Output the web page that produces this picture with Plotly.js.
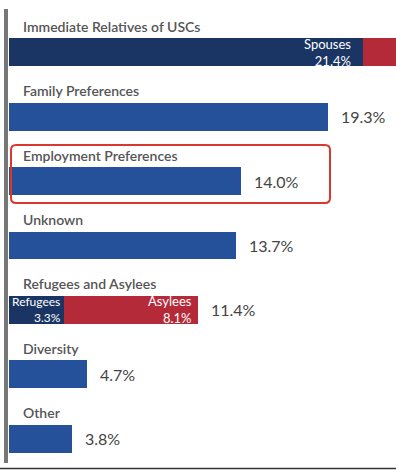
<!DOCTYPE html>
<html>
<head>
<meta charset="utf-8">
<script src="https://cdn.plot.ly/plotly-3.0.1.min.js"></script>
<style>html,body{margin:0;padding:0;background:#fff;}#chart{width:396px;height:471px;}</style>
</head>
<body>
<div id="chart"></div>
<script>
// Categories (top to bottom)
const categories = ["Immediate Relatives of USCs", "Family Preferences", "Employment Preferences", "Unknown", "Refugees and Asylees", "Diversity", "Other"];
// Totals shown to the right of bars
const totals = [null, 19.3, 14.0, 13.7, 11.4, 4.7, 3.8];
// Sub-segments
const spouses = 21.4;          // Immediate Relatives: Spouses
const otherRelatives = 22.6;   // Immediate Relatives: remainder (cropped, estimated)
const refugees = 3.3;
const asylees = 8.1;
const singleCats = ["Family Preferences", "Employment Preferences", "Unknown", "Diversity", "Other"];
const singleVals = [19.3, 14.0, 13.7, 4.7, 3.8];

const NAVY = "#1a3563", BLUE = "#24519a", RED = "#b52a38";
const FONT = "Lato, 'Source Sans Pro', 'Open Sans', sans-serif";

const traces = [
  {type: "bar", orientation: "h", y: [categories[0], categories[4]], x: [spouses, refugees],
   marker: {color: NAVY}, hoverinfo: "none"},
  {type: "bar", orientation: "h", y: [categories[0], categories[4]], x: [otherRelatives, asylees],
   marker: {color: RED}, hoverinfo: "none"},
  {type: "bar", orientation: "h", y: singleCats, x: singleVals,
   marker: {color: BLUE}, hoverinfo: "none"}
];

const annotations = [];
categories.forEach((c, i) => {
  annotations.push({x: 0, y: c, xref: "x", yref: "y", text: c, showarrow: false,
    xanchor: "left", yanchor: "middle", xshift: 12, yshift: 26,
    font: {family: FONT, size: 14, color: "#555555", weight: 600}});
  if (totals[i] !== null) {
    annotations.push({x: totals[i], y: c, xref: "x", yref: "y", text: totals[i].toFixed(1) + "%",
      showarrow: false, xanchor: "left", yanchor: "middle", xshift: 11,
      font: {family: FONT, size: 16, color: "#444444"}});
  }
});
// inside segment labels
const inside = [
  {x: spouses, y: categories[0], t: "Spouses<br>" + spouses.toFixed(1) + "%", s: -10, f: 13},
  {x: refugees, y: categories[4], t: "Refugees<br>" + refugees.toFixed(1) + "%", s: -1, f: 12},
  {x: refugees + asylees, y: categories[4], t: "Asylees<br>" + asylees.toFixed(1) + "%", s: -4, f: 13}
];
inside.forEach(o => annotations.push({x: o.x, y: o.y, xref: "x", yref: "y", text: o.t, showarrow: false,
  xanchor: "right", yanchor: "middle", xshift: o.s, align: "right",
  font: {family: FONT, size: o.f, color: "#ffffff"}}));

// rounded highlight box around Employment Preferences (paper coords)
const W = 387, H = 451; // plot area px
function px2x(px){ return (px - 9) / W; }
function py2y(py){ return (471 - py) / H; }
const bx0 = 11, bx1 = 330, by0 = 145, by1 = 203, r = 5;
const boxPath = [
  "M", px2x(bx0 + r), py2y(by0),
  "L", px2x(bx1 - r), py2y(by0),
  "Q", px2x(bx1), py2y(by0), px2x(bx1), py2y(by0 + r),
  "L", px2x(bx1), py2y(by1 - r),
  "Q", px2x(bx1), py2y(by1), px2x(bx1 - r), py2y(by1),
  "L", px2x(bx0 + r), py2y(by1),
  "Q", px2x(bx0), py2y(by1), px2x(bx0), py2y(by1 - r),
  "L", px2x(bx0), py2y(by0 + r),
  "Q", px2x(bx0), py2y(by0), px2x(bx0 + r), py2y(by0), "Z"
].join(" ");

const shapes = [
  {type: "line", xref: "paper", yref: "paper", x0: px2x(6), x1: px2x(6), y0: py2y(9), y1: py2y(463),
   line: {color: "#777777", width: 4}},
  {type: "line", xref: "paper", yref: "paper", x0: px2x(0), x1: px2x(396), y0: py2y(468.5), y1: py2y(468.5),
   line: {color: "#333333", width: 1.5}},
  {type: "path", xref: "paper", yref: "paper", path: boxPath, line: {color: "#d9382e", width: 2}}
];

const layout = {
  width: 396, height: 471,
  margin: {l: 9, r: 0, t: 20, b: 0},
  paper_bgcolor: "#ffffff", plot_bgcolor: "#ffffff",
  barmode: "stack", bargap: 0.566,
  showlegend: false,
  xaxis: {range: [0, 23.38], visible: false, fixedrange: true},
  yaxis: {type: "category", categoryorder: "array", categoryarray: categories, visible: false,
          range: [6.5, -0.5], autorange: false},
  annotations: annotations,
  shapes: shapes
};
Plotly.newPlot("chart", traces, layout, {staticPlot: true, displayModeBar: false});
</script>
</body>
</html>
